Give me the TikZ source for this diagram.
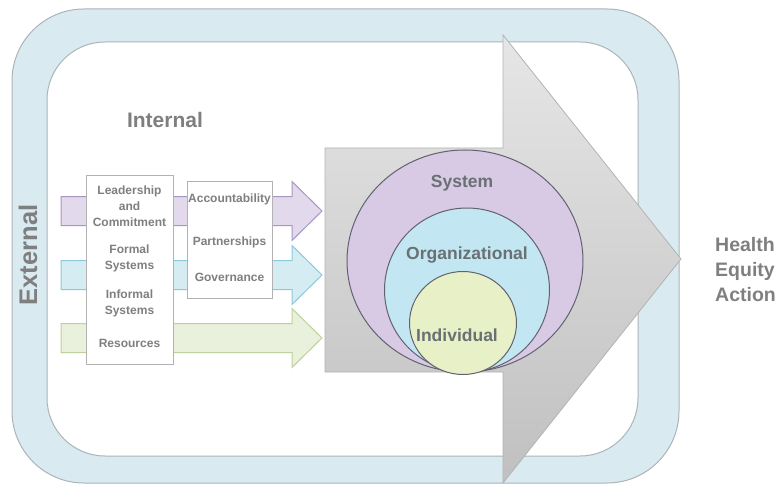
\documentclass[tikz,border=0pt]{standalone}
\usepackage{fontspec}
\setmainfont{Liberation Sans}
\usetikzlibrary{shapes.geometric}

\definecolor{bandfill}{HTML}{DAEAF1}
\definecolor{bandline}{HTML}{ABB4B8}
\definecolor{arrowtop}{HTML}{E6E6E6}
\definecolor{arrowbot}{HTML}{C0C0C0}
\definecolor{arrowline}{HTML}{B3B3B3}
\definecolor{lilacfill}{HTML}{E3D9EC}
\definecolor{lilacline}{HTML}{A696C2}
\definecolor{skyfill}{HTML}{D6ECF3}
\definecolor{skyline}{HTML}{8CCAD9}
\definecolor{limefill}{HTML}{E9F0DC}
\definecolor{limeline}{HTML}{BFD09A}
\definecolor{sysfill}{HTML}{D8C9E5}
\definecolor{orgfill}{HTML}{C2E7F2}
\definecolor{indfill}{HTML}{E7F0C6}
\definecolor{ringline}{HTML}{62626F}
\definecolor{labelgray}{HTML}{7F7F7F}
\definecolor{ringtext}{HTML}{6A7073}

\begin{document}
\begin{tikzpicture}[
  x=1pt, y=-1pt,
  band/.style={draw=bandline, line width=1pt},
  bigtitle/.style={font=\fontsize{21}{25}\selectfont\bfseries, text=labelgray},
  inarrow/.style={draw=#1line, fill=#1fill, line width=1pt},
  bigarrow/.style={draw=arrowline, line width=0.8pt, top color=arrowtop, bottom color=arrowbot},
  listbox/.style={rectangle, draw=black!30, fill=white, line width=1pt, inner sep=0pt},
  item/.style={align=center, font=\fontsize{12}{16}\selectfont\bfseries, text=labelgray},
  level/.style={ellipse, draw=ringline, line width=1pt, inner sep=0pt},
  leveltag/.style={font=\fontsize{17.5}{20}\selectfont\bfseries, text=ringtext},
  outcome/.style={align=left, anchor=west, inner sep=0pt, font=\fontsize{19.5}{25}\selectfont\bfseries, text=labelgray}
]
  \useasboundingbox (0,0) rectangle (782,484);

  % external / internal frames
  \draw[band, fill=bandfill, rounded corners=72pt] (12,9) rectangle (679,483);
  \draw[band, fill=white, rounded corners=58pt] (47,42) rectangle (638,456);

  \node (ext) [bigtitle, font=\fontsize{25.5}{28}\selectfont\bfseries, rotate=90] at (28,255) {External};
  \node (int) [bigtitle] at (165,120) {Internal};

  % input arrows
  \foreach \yc/\tone in {211/lilac, 275/sky, 338/lime} {
    \draw[inarrow=\tone] (61,{\yc-14.5}) -- (292,{\yc-14.5}) -- (292,{\yc-29.5})
      -- (322,\yc) -- (292,{\yc+29.5}) -- (292,{\yc+14.5}) -- (61,{\yc+14.5}) -- cycle;
  }

  % big arrow
  \draw[bigarrow] (325,148) -- (503,148) -- (503,35) -- (681,259)
    -- (503,483) -- (503,372) -- (325,372) -- cycle;

  % factor boxes
  \node (factors) [listbox, minimum width=87, minimum height=188] at (129.5,270) {};
  \node (lead) [item] at (129.5,206) {Leadership\\and\\Commitment};
  \node (formal) [item] at (129.5,258) {Formal\\Systems};
  \node (informal) [item] at (129.5,303) {Informal\\Systems};
  \node (res) [item] at (129.5,343) {Resources};

  \node (structures) [listbox, minimum width=85, minimum height=116] at (229.5,240) {};
  \node (acc) [item] at (229.5,199) {Accountability};
  \node (partner) [item] at (229.5,242) {Partnerships};
  \node (gov) [item] at (229.5,277) {Governance};

  % levels
  \node (sys) [level, fill=sysfill, minimum width=236, minimum height=222] at (465,261) {};
  \node (org) [level, fill=orgfill, minimum width=165, minimum height=164] at (467,290) {};
  \node (ind) [level, fill=indfill, minimum width=107, minimum height=103] at (463,323) {};

  \node (systag) [leveltag] at (462,183) {System};
  \node (orgtag) [leveltag] at (467,255) {Organizational};
  \node (indtag) [leveltag] at (457,335) {Individual};

  \node (hea) [outcome] at (715,270) {Health\\Equity\\Action};
\end{tikzpicture}
\end{document}
